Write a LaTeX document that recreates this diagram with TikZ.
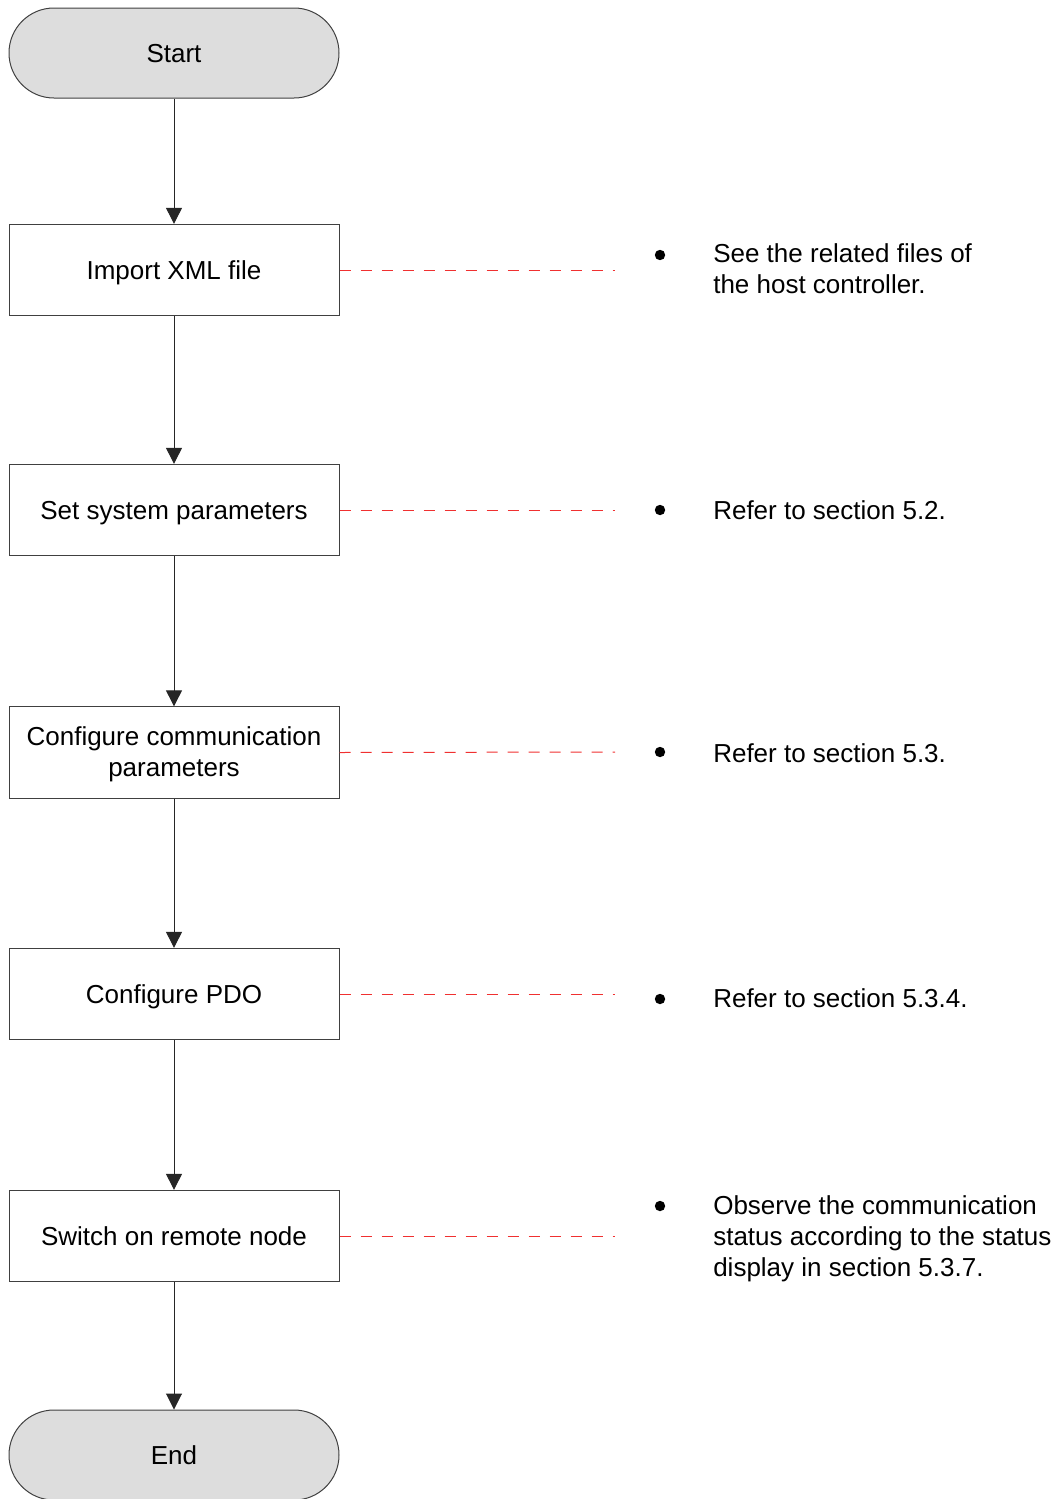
\documentclass[tikz,border=0pt]{standalone}
\usepackage{fontspec}
\setmainfont{Liberation Sans}
\usetikzlibrary{arrows.meta}
\definecolor{termfill}{HTML}{DDDDDD}
\definecolor{boxline}{HTML}{404040}
\definecolor{dashred}{HTML}{F03030}
\begin{document}
\begin{tikzpicture}[x=0.75pt,y=-0.75pt,
  every node/.style={font=\fontsize{19.5pt}{23.25pt}\selectfont, inner sep=0pt},
  oneline/.style={text height=14pt, text depth=0pt},
  term/.style={draw=boxline, fill=termfill, rounded corners=33.7pt, minimum width=247.5pt, minimum height=67.5pt, line width=0.75pt, oneline},
  procbox/.style={draw=boxline, fill=white, minimum width=247.5pt, minimum height=68.5pt, line width=0.75pt, align=center},
  flow/.style={draw=black!85, line width=0.75pt, -{Triangle[length=12pt,width=12pt]}},
  note/.style={dashred, line width=0.75pt, dash pattern=on 8.25pt off 7.5pt},
  bulletdot/.style={circle, fill=black, minimum size=7.8pt},
  notetext/.style={anchor=west, align=left}
]
\useasboundingbox (0,0) rectangle (1056,1499);
\node[term] (start) at (174,53) {Start};
\node[procbox, oneline] (imp) at (174,270) {Import XML file};
\node[procbox, oneline] (sys) at (174,510) {Set system parameters};
\node[procbox] (com) at (174,752.5) {\raisebox{-2pt}[\height][\depth]{\begin{tabular}{@{}c@{}}Configure communication\\parameters\end{tabular}}};
\node[procbox, oneline] (pdo) at (174,994) {Configure PDO};
\node[procbox, oneline] (sw) at (174,1236) {Switch on remote node};
\node[term] (end) at (174,1455) {End};

\draw[flow] (start) -- (imp);
\draw[flow] (imp) -- (sys);
\draw[flow] (sys) -- (com);
\draw[flow] (com) -- (pdo);
\draw[flow] (pdo) -- (sw);
\draw[flow] (sw) -- (end);

\coordinate (n1) at (615,270);
\coordinate (n2) at (615,510);
\coordinate (n3) at (615,752);
\coordinate (n4) at (615,994);
\coordinate (n5) at (615,1236);
\draw[note] (imp.east) -- (n1);
\draw[note] (sys.east) -- (n2);
\draw[note] (com.east) -- (n3);
\draw[note] (pdo.east) -- (n4);
\draw[note] (sw.east) -- (n5);

\node[bulletdot] (b1) at (660,255) {};
\node[bulletdot] (b2) at (660,510) {};
\node[bulletdot] (b3) at (660,752) {};
\node[bulletdot] (b4) at (660,999) {};
\node[bulletdot] (b5) at (660,1206) {};

\node[notetext] (t1) at (713,269) {See the related files of\\the host controller.};
\node[notetext] (t2) at (713,510) {Refer to section 5.2.};
\node[notetext] (t3) at (713,753) {Refer to section 5.3.};
\node[notetext] (t4) at (713,998) {Refer to section 5.3.4.};
\node[notetext] (t5) at (713,1239) {Observe the communication\\status according to the status\\display in section 5.3.7.};
\end{tikzpicture}
\end{document}
